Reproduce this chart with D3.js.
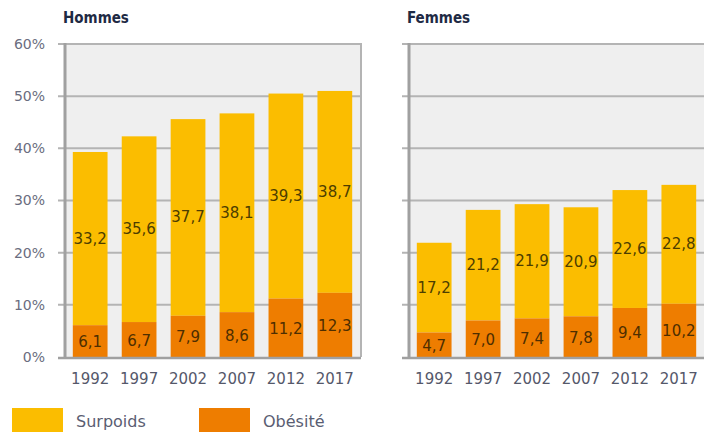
<!DOCTYPE html>
<html><head><meta charset="utf-8">
<script src="https://cdn.jsdelivr.net/npm/d3@7"></script>
<style>body{margin:0;background:#fff;}svg{display:block;}</style>
</head><body>
<script>
const years = ["1992","1997","2002","2007","2012","2017"];
const hommesObesite = [6.1, 6.7, 7.9, 8.6, 11.2, 12.3];
const hommesSurpoids = [33.2, 35.6, 37.7, 38.1, 39.3, 38.7];
const femmesObesite = [4.7, 7.0, 7.4, 7.8, 9.4, 10.2];
const femmesSurpoids = [17.2, 21.2, 21.9, 20.9, 22.6, 22.8];
const yTicks = [0, 10, 20, 30, 40, 50, 60];
const panelTitles = ["Hommes", "Femmes"];
const legendLabels = ["Surpoids", "Obésité"];

const W = 704, H = 432;
const colSurpoids = "#fbbd00", colObesite = "#ee7d00";
const font = "'DejaVu Sans', sans-serif";
const svg = d3.select("body").append("svg").attr("width", W).attr("height", H);

const y = d3.scaleLinear().domain([0, 60]).range([357, 44]);
const panels = [
  {title: panelTitles[0], x0: 64, ob: hommesObesite, su: hommesSurpoids, yAxis: true},
  {title: panelTitles[1], x0: 408, ob: femmesObesite, su: femmesSurpoids, yAxis: false}
];
const pw = 297;

panels.forEach(p => {
  const x = d3.scaleBand().domain(years).range([p.x0, p.x0 + pw]).paddingInner(0.29).paddingOuter(0.18);
  const g = svg.append("g");
  g.append("rect").attr("x", p.x0).attr("y", y(60)).attr("width", pw).attr("height", y(0) - y(60)).attr("fill", "#efefef");
  g.selectAll("line.grid").data(yTicks.filter(t => t > 0)).enter().append("line")
    .attr("x1", p.x0 - 6).attr("x2", p.x0 + pw)
    .attr("y1", d => y(d)).attr("y2", d => y(d))
    .attr("stroke", "#b4b4b4").attr("stroke-width", 2);
  g.append("line").attr("x1", p.x0 + pw).attr("x2", p.x0 + pw).attr("y1", y(60) - 1).attr("y2", y(0))
    .attr("stroke", "#b4b4b4").attr("stroke-width", 2);
  years.forEach((yr, i) => {
    const bx = x(yr), bw = x.bandwidth();
    const ob = p.ob[i], su = p.su[i];
    g.append("rect").attr("x", bx).attr("width", bw).attr("y", y(ob + su)).attr("height", y(ob) - y(ob + su)).attr("fill", colSurpoids);
    g.append("rect").attr("x", bx).attr("width", bw).attr("y", y(ob)).attr("height", y(0) - y(ob)).attr("fill", colObesite);
    g.append("text").attr("x", bx + bw / 2).attr("y", (y(ob + su) + y(ob)) / 2)
      .attr("text-anchor", "middle").attr("dominant-baseline", "central")
      .attr("font-family", font).attr("font-size", 15).attr("fill", "#4d3d00")
      .text(d3.format(".1f")(su).replace(".", ","));
    g.append("text").attr("x", bx + bw / 2).attr("y", (y(ob) + y(0)) / 2 + 1)
      .attr("text-anchor", "middle").attr("dominant-baseline", "central")
      .attr("font-family", font).attr("font-size", 15).attr("fill", "#4d2e00")
      .text(d3.format(".1f")(ob).replace(".", ","));
  });
  g.append("line").attr("x1", p.x0 + 1).attr("x2", p.x0 + 1).attr("y1", y(60) - 1).attr("y2", y(0) + 2)
    .attr("stroke", "#a0a0a0").attr("stroke-width", 3);
  g.append("line").attr("x1", p.x0 - 6).attr("x2", p.x0 + pw).attr("y1", y(0) + 1).attr("y2", y(0) + 1)
    .attr("stroke", "#a0a0a0").attr("stroke-width", 2.5);
  const xa = g.append("g").attr("transform", `translate(0,${y(0)})`)
    .call(d3.axisBottom(x).tickSize(0).tickPadding(16));
  xa.select(".domain").remove();
  xa.selectAll("text").attr("font-family", font).attr("font-size", 15).attr("fill", "#55586a");
  if (p.yAxis) {
    const ya = g.append("g").attr("transform", `translate(${p.x0 - 19},0)`)
      .call(d3.axisLeft(y).tickValues(yTicks).tickSize(0).tickPadding(0).tickFormat(d => d + "%"));
    ya.select(".domain").remove();
    ya.selectAll("text").attr("font-family", font).attr("font-size", 14).attr("fill", "#6a6d80");
  }
  g.append("text").attr("x", p.x0 - 1).attr("y", 23).attr("font-family", "'DejaVu Sans Condensed', sans-serif").attr("font-weight", "bold")
    .attr("font-size", 15).attr("fill", "#1e2a44").text(p.title);
});

const legend = [{label: legendLabels[0], color: colSurpoids, x: 12}, {label: legendLabels[1], color: colObesite, x: 199}];
legend.forEach(l => {
  svg.append("rect").attr("x", l.x).attr("y", 408).attr("width", 51).attr("height", 24).attr("fill", l.color);
  svg.append("text").attr("x", l.x + 64).attr("y", 421).attr("dominant-baseline", "central")
    .attr("font-family", font).attr("font-size", 16).attr("fill", "#5a5d72").text(l.label);
});
</script>
</body></html>
